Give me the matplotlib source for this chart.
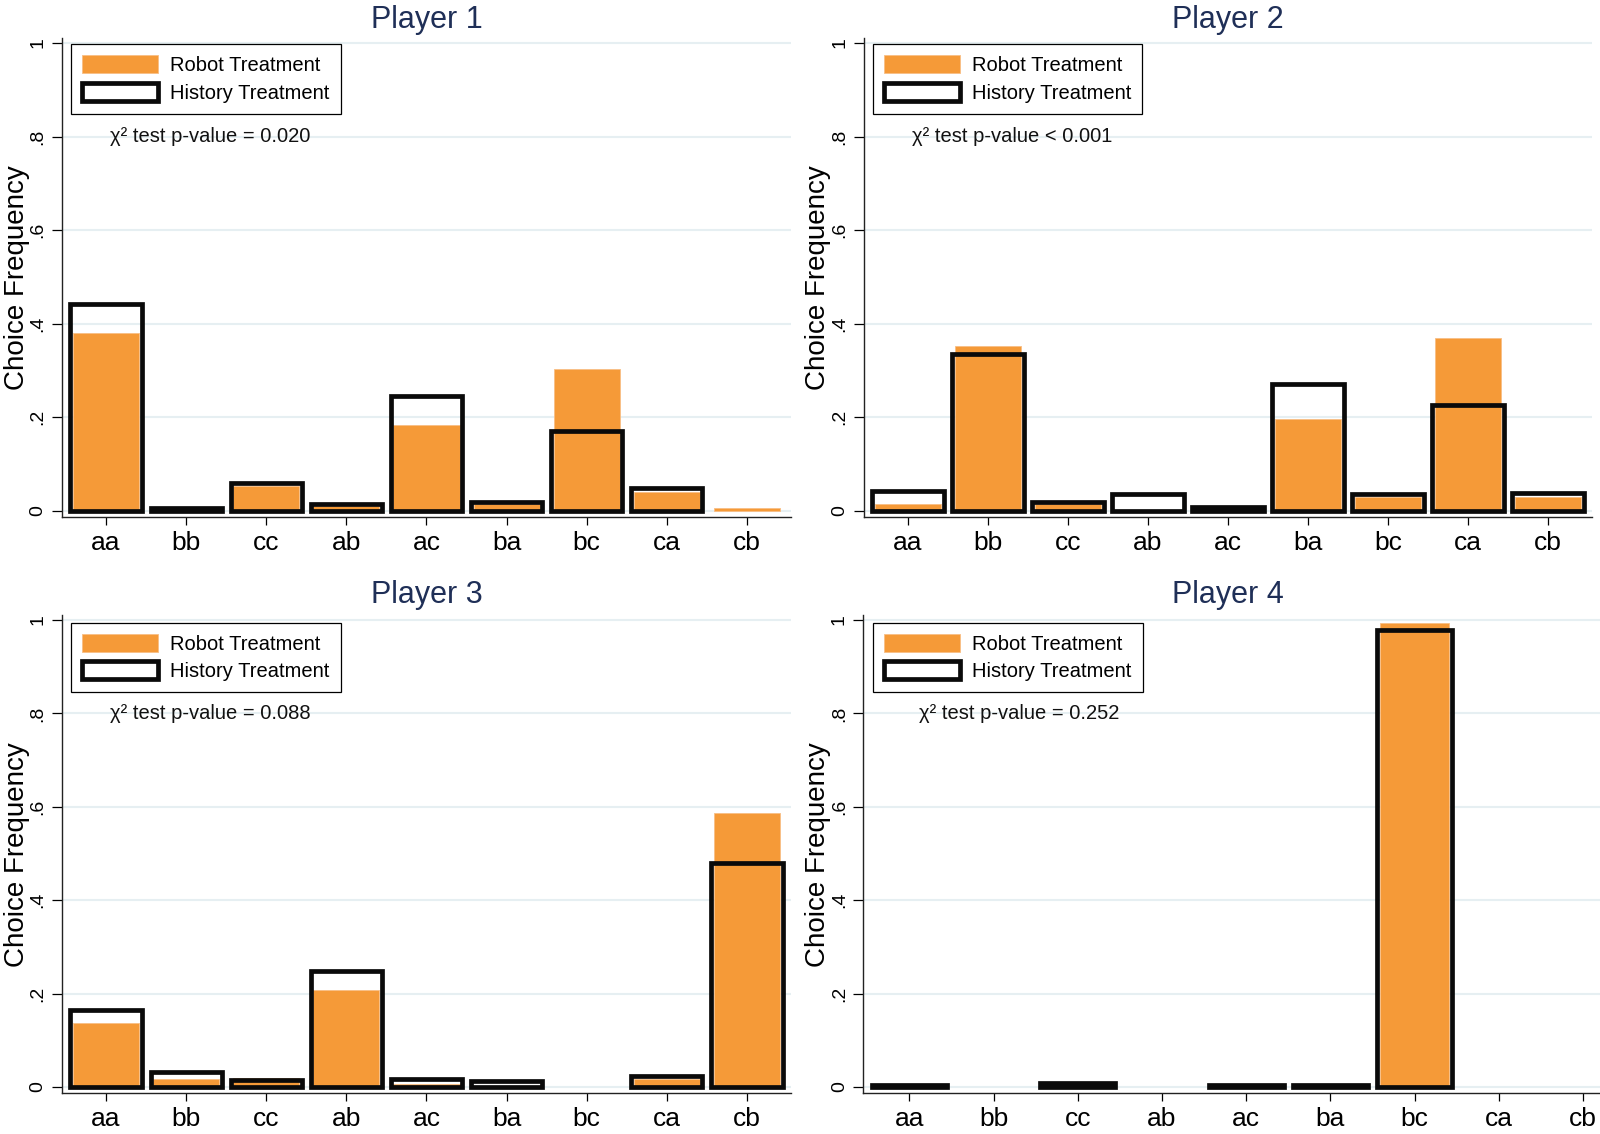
import matplotlib
matplotlib.use("Agg")
import matplotlib.pyplot as plt
import numpy as np

plt.rcParams['font.family'] = ['Liberation Sans', 'DejaVu Sans']

categories = ["aa", "bb", "cc", "ab", "ac", "ba", "bc", "ca", "cb"]
titles = ["Player 1", "Player 2", "Player 3", "Player 4"]
pvalue_texts = ["χ² test p-value = 0.020", "χ² test p-value < 0.001",
                "χ² test p-value = 0.088", "χ² test p-value = 0.252"]

robot_p1 = [0.379, 0.0, 0.053, 0.010, 0.182, 0.013, 0.303, 0.040, 0.006]
history_p1 = [0.441, 0.005, 0.059, 0.014, 0.245, 0.018, 0.170, 0.048, 0.0]
robot_p2 = [0.015, 0.352, 0.013, 0.0, 0.0, 0.196, 0.029, 0.369, 0.030]
history_p2 = [0.041, 0.334, 0.018, 0.035, 0.007, 0.270, 0.035, 0.226, 0.038]
robot_p3 = [0.137, 0.018, 0.020, 0.208, 0.007, 0.0, 0.0, 0.018, 0.586]
history_p3 = [0.165, 0.033, 0.014, 0.248, 0.017, 0.013, 0.0, 0.024, 0.479]
robot_p4 = [0.0, 0.0, 0.0, 0.0, 0.0, 0.0, 0.993, 0.0, 0.0]
history_p4 = [0.005, 0.0, 0.009, 0.0, 0.005, 0.005, 0.978, 0.0, 0.0]

robots = [robot_p1, robot_p2, robot_p3, robot_p4]
histories = [history_p1, history_p2, history_p3, history_p4]

yticks = [0, 0.2, 0.4, 0.6, 0.8, 1.0]
ytick_labels = ["0", ".2", ".4", ".6", ".8", "1"]

ORANGE = "#F59A38"
TITLE_COLOR = "#1F2F57"
GRID_COLOR = "#E6EFF2"

W, H = 1600, 1134
fig = plt.figure(figsize=(W / 100, H / 100), dpi=100)

positions = [
    [0.03875, 0.5444, 0.4556, 0.4218],
    [0.5400, 0.5444, 0.4550, 0.4218],
    [0.03875, 0.0361, 0.4556, 0.4213],
    [0.5394, 0.0361, 0.4790, 0.4213],
]
title_y = [1 - 20 / H, 1 - 20 / H, 1 - 595 / H, 1 - 595 / H]
ylabel_x = [17 / W, 818 / W, 17 / W, 818 / W]

x = np.arange(1, len(categories) + 1)

for i in range(4):
    ax = fig.add_axes(positions[i])
    r = np.array(robots[i])
    h = np.array(histories[i])
    rmask = r > 0
    hmask = h > 0
    ax.bar(x[rmask], r[rmask], width=0.825, color=ORANGE, edgecolor="#F8BE85",
           linewidth=0.6, zorder=2, label="Robot Treatment")
    ax.bar(x[hmask], h[hmask], width=0.89, facecolor="none", edgecolor="#0A0A0A",
           linewidth=3.4, zorder=3, label="History Treatment")

    ax.set_xlim(0.45, 9.55)
    ax.set_ylim(-0.013, 1.01)
    ax.set_xticks(x)
    ax.set_xticklabels(categories, fontsize=19)
    ax.set_yticks(yticks)
    ax.set_yticklabels(ytick_labels, fontsize=14, rotation=90, va='center')
    ax.tick_params(axis='y', length=7, width=0.9, pad=4)
    ax.tick_params(axis='x', length=6, width=0.9, pad=4)
    for s in ["top", "right"]:
        ax.spines[s].set_visible(False)
    for s in ["left", "bottom"]:
        ax.spines[s].set_linewidth(1.0)
        ax.spines[s].set_color("#222222")
    ax.yaxis.grid(True, color=GRID_COLOR, linewidth=1.5)
    ax.set_axisbelow(True)

    anchor_x = 0.0123 if i != 3 else 0.013
    anchor_y = 0.988 if i < 2 else 0.9846
    leg = ax.legend(loc="upper left", bbox_to_anchor=(anchor_x, anchor_y),
                    borderaxespad=0, fontsize=14.5, handlelength=3.75,
                    handleheight=1.0, labelspacing=0.38, handletextpad=0.62,
                    borderpad=0.55, fancybox=False, framealpha=1,
                    edgecolor="black")
    leg.get_frame().set_linewidth(0.9)

    ax.text(2.3, 0.8, pvalue_texts[i], ha="center", va="center", fontsize=14.5,
            color="#111111", zorder=5)

    pos = positions[i]
    tx = pos[0] + pos[2] / 2 if i != 3 else positions[1][0] + positions[1][2] / 2
    fig.text(tx, title_y[i], titles[i], ha="center", va="center", fontsize=22,
             color=TITLE_COLOR)
    fig.text(ylabel_x[i], pos[1] + pos[3] / 2, "Choice Frequency", rotation=90,
             ha="center", va="center", fontsize=20)

fig.savefig("out.png", dpi=100)
